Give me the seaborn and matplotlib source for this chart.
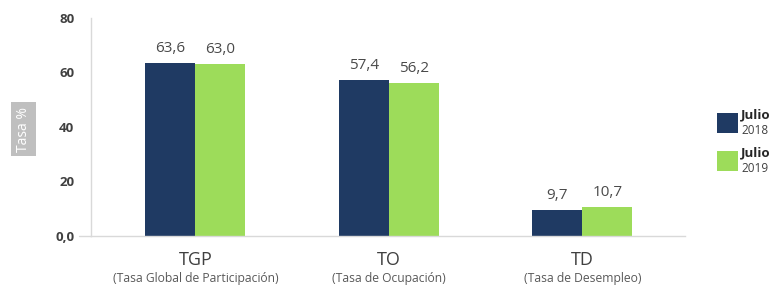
import pandas as pd
import seaborn as sns
import matplotlib.pyplot as plt
from matplotlib.patches import Rectangle

# Data
categories = ['TGP', 'TO', 'TD']
subtitles = ['(Tasa Global de Participación)', '(Tasa de Ocupación)', '(Tasa de Desempleo)']
years = ['2018', '2019']
values_2018 = [63.6, 57.4, 9.7]
values_2019 = [63.0, 56.2, 10.7]

df = pd.DataFrame({
    'cat': categories * 2,
    'year': [years[0]] * 3 + [years[1]] * 3,
    'val': values_2018 + values_2019,
})

colors = ['#1f3a63', '#9ddc5a']
gray = '#595959'

sns.set_theme(style='white')
plt.rcParams['font.family'] = ['Open Sans', 'DejaVu Sans']

fig = plt.figure(figsize=(7.73, 2.88), dpi=100)
ax = fig.add_axes([0.1177, 0.1806, 0.886 - 0.1177, 0.9375 - 0.1806])

sns.barplot(data=df, x='cat', y='val', hue='year', palette=colors,
            width=0.517, saturation=1, legend=False, linewidth=0, ax=ax)

# value labels with comma decimals
for cont in ax.containers:
    labels = [f'{v:.1f}'.replace('.', ',') for v in cont.datavalues]
    ax.bar_label(cont, labels=labels, padding=5, fontsize=11, color='#4a4a4a')

ax.set_xlim(-0.54, 2.53)
ax.set_ylim(0, 80)
ax.set_yticks([0, 20, 40, 60, 80])
ax.set_yticklabels(['0,0', '20', '40', '60', '80'], fontsize=9.5,
                   color='#404040', fontweight='bold')
ax.tick_params(axis='y', length=0, pad=12)
ax.set_xticks([0, 1, 2])
ax.set_xticklabels([])
ax.tick_params(axis='x', length=0)
ax.set_xlabel('')
ax.set_ylabel('')

for s in ['top', 'right']:
    ax.spines[s].set_visible(False)
for s in ['left', 'bottom']:
    ax.spines[s].set_color('#d9d9d9')
    ax.spines[s].set_linewidth(1)
ax.plot([-0.6, -0.54], [0, 0], color='#d9d9d9', lw=1, clip_on=False)

# category labels
trans = ax.get_xaxis_transform()
for i, (c, sub) in enumerate(zip(categories, subtitles)):
    ax.text(i, -0.11, c, transform=trans, ha='center', va='center',
            fontsize=13, color='#404040')
    ax.text(i, -0.193, sub, transform=trans, ha='center', va='center',
            fontsize=8.7, color=gray)

# y label in gray box
fig.text(23.5 / 773, 1 - 129 / 288, 'Tasa %', rotation=90, ha='center',
         va='center', fontsize=10, color='white',
         bbox=dict(boxstyle='square,pad=0.35', fc='#bfbfbf', ec='none'))

# legend
for (y0, col, yr) in [(113, colors[0], years[0]), (151, colors[1], years[1])]:
    fig.patches.append(Rectangle((717 / 773, 1 - (y0 + 20) / 288), 21 / 773, 20 / 288,
                                 transform=fig.transFigure, fc=col, ec='none'))
    fig.text(741 / 773, 1 - (y0 + 2) / 288, 'Julio', fontsize=9.5,
             fontweight='bold', color='#262626', va='center')
    fig.text(741 / 773, 1 - (y0 + 17) / 288, yr, fontsize=8.5,
             color='#404040', va='center')

fig.savefig('out.png', dpi=100)
